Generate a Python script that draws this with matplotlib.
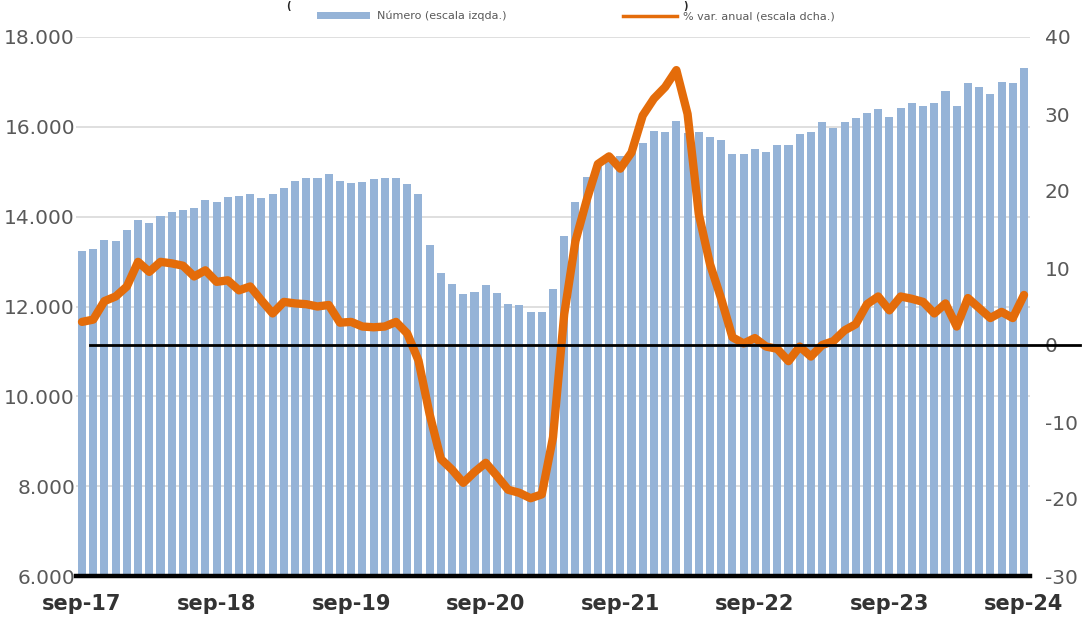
import matplotlib
matplotlib.use("Agg")
import matplotlib.pyplot as plt
from matplotlib.patches import Patch
from matplotlib.lines import Line2D
from matplotlib.ticker import FuncFormatter

plt.rcParams["axes.unicode_minus"] = False

# ---- data ----
numero = [13230, 13290, 13480, 13450, 13700, 13920, 13870, 14010, 14110, 14140,
          14200, 14380, 14320, 14440, 14470, 14500, 14410, 14500, 14640, 14800,
          14850, 14850, 14950, 14800, 14740, 14770, 14830, 14860, 14860, 14720,
          14500, 13380, 12750, 12510, 12270, 12330, 12480, 12300, 12060, 12030,
          11880, 11880, 12390, 13570, 14320, 14890, 15150, 15300, 15340, 15450,
          15650, 15910, 15880, 16120, 15870, 15880, 15770, 15700, 15400, 15400,
          15500, 15440, 15590, 15590, 15850, 15880, 16100, 15980, 16100, 16190,
          16310, 16400, 16220, 16430, 16520, 16460, 16520, 16790, 16460, 16970,
          16880, 16730, 17000, 16970, 17300]
var_anual = [3.0, 3.3, 5.7, 6.3, 7.6, 10.8, 9.5, 10.8, 10.6, 10.3,
             8.9, 9.7, 8.2, 8.4, 7.1, 7.6, 5.8, 4.1, 5.6, 5.4,
             5.3, 5.0, 5.2, 2.9, 3.0, 2.4, 2.3, 2.4, 3.0, 1.5,
             -2.0, -9.0, -14.8, -16.2, -17.9, -16.5, -15.3, -17.0, -18.8, -19.2,
             -19.9, -19.4, -12.0, 4.0, 13.5, 18.8, 23.5, 24.5, 22.9, 25.0,
             29.8, 32.0, 33.5, 35.7, 30.0, 17.0, 10.5, 6.0, 1.0, 0.2,
             0.9, -0.2, -0.5, -2.1, -0.2, -1.5, 0.0, 0.5, 1.9, 2.7,
             5.3, 6.3, 4.5, 6.3, 6.0, 5.6, 4.1, 5.4, 2.4, 6.1,
             4.8, 3.5, 4.3, 3.5, 6.5]
tick_labels = ["sep-17", "sep-18", "sep-19", "sep-20", "sep-21", "sep-22", "sep-23", "sep-24"]
legend_labels = ["Número (escala izqda.)", "% var. anual (escala dcha.)"]

BLUE = "#95B3D7"
ORANGE = "#E46C0A"
GRAY = "#595959"

W, H = 1091, 620
fig = plt.figure(figsize=(W / 100, H / 100), dpi=100)
ax = fig.add_axes([76.4 / W, 44 / H, 953.2 / W, 539 / H])

x = list(range(len(numero)))
ax.bar(x, numero, width=0.72, color=BLUE, zorder=2)
ax.set_xlim(-0.5, len(numero) - 0.5)
ax.set_ylim(6000, 18000)
ax.set_yticks(range(6000, 18001, 2000))
ax.yaxis.set_major_formatter(FuncFormatter(lambda v, p: f"{int(v):,}".replace(",", ".")))
ax.grid(axis="y", color="#D9D9D9", lw=1.2, zorder=0)
ax.set_axisbelow(True)
for s in ["left", "right", "top"]:
    ax.spines[s].set_visible(False)
ax.spines["bottom"].set_color("black")
ax.spines["bottom"].set_linewidth(3.2)
ax.spines["bottom"].set_zorder(5)
ax.tick_params(axis="y", length=0, pad=1, labelsize=14.5, labelcolor=GRAY)
ax.set_xticks(list(range(0, len(numero), 12)))
ax.set_xticklabels(tick_labels, fontsize=15, fontweight="bold", color="#333333")
ax.tick_params(axis="x", length=0, pad=13)

ax2 = ax.twinx()
ax2.set_ylim(-30, 40)
ax2.set_yticks(range(-30, 41, 10))
for s in ax2.spines.values():
    s.set_visible(False)
ax2.tick_params(axis="y", length=0, pad=11, labelsize=14.5, labelcolor=GRAY)
ax2.plot(x, var_anual, color=ORANGE, lw=6, solid_joinstyle="round",
         solid_capstyle="round", zorder=3)
ax2.axhline(0, xmin=0.014, xmax=1.053, color="black", lw=2, clip_on=False, zorder=4)

# title parentheses at the top edge (title itself cut off in the reference)
fig.text(288 / W, 1 - 1 / H, "(", fontsize=7, fontweight="bold", color="#262626",
         ha="center", va="top")
fig.text(685 / W, 1 - 1 / H, ")", fontsize=7, fontweight="bold", color="#262626",
         ha="center", va="top")

handles = [Patch(facecolor=BLUE, edgecolor="none"),
           Line2D([0], [0], color=ORANGE, lw=2.5)]
fig.legend(handles, legend_labels, loc="center", bbox_to_anchor=(576 / W, 1 - 16 / H),
           ncol=2, frameon=False, fontsize=8, handlelength=4.8, handleheight=0.6,
           columnspacing=10.5, handletextpad=0.6, labelcolor=GRAY)

fig.savefig("out.png", dpi=100)
